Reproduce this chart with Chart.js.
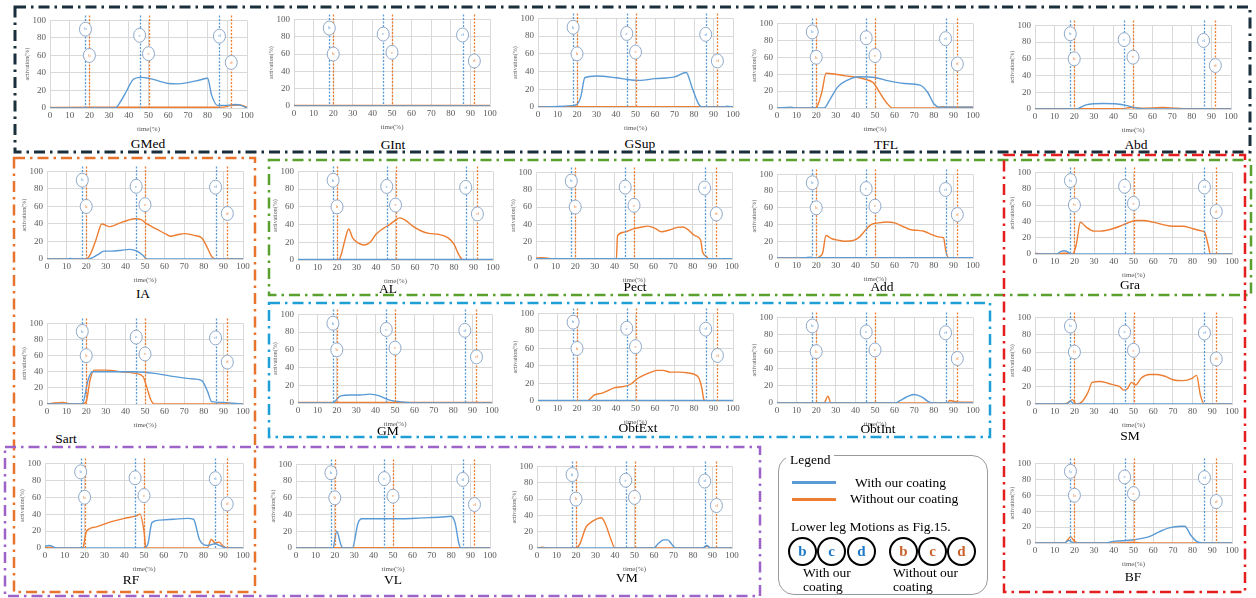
<!DOCTYPE html>
<html>
<head>
<meta charset="utf-8">
<script src="https://cdn.jsdelivr.net/npm/chart.js@4"></script>
<style>
  body { margin: 0; background: #fff; }
  #page { position: relative; width: 1256px; height: 598px; overflow: hidden; font-family: "Liberation Serif", serif; }
  canvas.panel { position: absolute; }
  .ttl { position: absolute; font-size: 13.5px; color: #000; transform: translate(-50%, -50%); white-space: nowrap; line-height: 1; }
  #frames { position: absolute; left: 0; top: 0; }
  #legend { position: absolute; left: 778px; top: 455px; width: 210px; height: 140px; border: 1.5px solid #9a9a9a; border-radius: 16px; box-sizing: border-box; }
  .lg { position: absolute; font-size: 13.5px; color: #000; white-space: nowrap; line-height: 1; }
  .sw { position: absolute; height: 3px; width: 44px; }
  .circ { position: absolute; width: 25px; height: 25px; border: 2px solid #000; border-radius: 50%; font-weight: bold; font-size: 15px; text-align: center; line-height: 25px; }
</style>
</head>
<body>
<div id="page"></div>
<script>
// series colours
const withColor = '#5b9bd5';
const withoutColor = '#ed7d31';

// motion phases (time %), circle heights, labels
const phaseTimes  = [18, 20, 45.5, 50, 86, 92];
const phaseCircY  = [90, 60, 83, 62, 82, 52];
const phaseLetter = ['b', 'b', 'c', 'c', 'd', 'd'];
const phaseIsWith = [true, false, true, false, true, false];

// activation curves, [time %, activation %]
const GMed_with = [[0,0],[33,0],[36,8],[39,20],[42,32],[46,35],[50,34],[55,31],[60,28],[65,27.5],[70,29],[76,32],[80,34],[82,15],[85,3],[90,3],[94,4],[97,3],[100,0]];
const GMed_without = [[0,0.5],[20,0.8],[80,0.8],[88,1],[92,3],[96,3.5],[100,1]];
const GInt_with = [[0,0],[100,0]];
const GInt_without = [[0,0.6],[100,0.6]];
const GSup_with = [[0,0],[10,0.5],[17,1.5],[20,3],[22,12],[24,33],[30,35],[40,33],[46,31],[52,30],[60,32],[70,34],[76,39],[79,22],[82,5],[84,0],[95,0],[97,1],[100,0]];
const GSup_without = [[0,0.3],[100,0.3]];
const TFL_with = [[0,0],[7,1],[10,0],[24,0],[27,10],[31,25],[36,33],[42,37],[50,36],[57,32],[65,29],[73,27],[77,18],[80,5],[83,1],[100,1]];
const TFL_without = [[0,0],[19,0],[20.5,2],[23,20],[25,41],[35,38],[45,34],[49,30],[53,16],[56,6],[59,0],[82,0],[84,1.5],[87,0.8],[100,0.8]];
const Abd_with = [[0,0],[21,0],[26,5],[35,6.5],[42,6],[47,4],[52,1],[56,0],[100,0]];
const Abd_without = [[0,0.3],[44,0.3],[49,1.8],[55,1],[65,1.8],[72,1],[80,0.3],[100,0.3]];
const IA_with = [[0,0],[10,0],[12,0.6],[14,0],[21,0],[26,5],[29,9],[33,9],[38,10],[42,11],[46,9],[49,4],[51,0],[100,0]];
const IA_without = [[0,0],[20,0],[22,5],[25,22],[28,40],[32,37],[37,41],[41,44],[45,46],[48,45],[51,40],[56,34],[61,28],[63,26],[67,28],[70,29],[75,27],[79,24],[82,12],[84,3],[86,0],[100,0]];
const AL_with = [[0,0.5],[100,0.5]];
const AL_without = [[0,0],[20,0],[21.5,2],[24,22],[26,35],[28,25],[31,19],[34,17],[37,20],[40,29],[44,36],[47,40],[50,45],[52,47.5],[55,45],[59,38],[63,33],[67,30],[72,29],[77,25],[80,18],[82,8],[84,1],[86,0],[100,0]];
const Pect_with = [[0,0.3],[100,0.3]];
const Pect_without = [[0,1],[3,1.5],[6,1],[8,0],[41,0],[41.6,27],[45,31],[50,35],[54,37],[57,38],[61,35],[64,31.5],[68,33.5],[72,36.5],[75,37],[78,33],[81,27],[84,22],[85,8],[87,3],[88,0],[100,0]];
const Add_with = [[0,0],[14,0.3],[17,1],[19,0.3],[100,0.3]];
const Add_without = [[0,0],[20,0],[22,2],[23.3,6],[25,27],[28,23],[32,21],[35,20],[39,21],[42,25],[45,33],[48,40],[52,42],[56,43],[60,42],[64,38],[68,34],[72,33],[75,32],[79,28],[83,25],[85,24],[86,10],[87.5,0],[100,0]];
const Gra_with = [[0,0],[11,0],[13,3],[15,4],[17,2],[18,0],[100,0]];
const Gra_without = [[0,1],[3,0],[11,0],[14,1],[17,1],[19,0],[21,12],[23,39],[26,33],[30,28],[33,28],[38,30],[43,34],[47,38],[51,41],[55,41],[60,39],[65,36],[70,34],[75,34],[80,31],[85,28],[86,27],[88,10],[89,0],[100,0]];
const Sart_with = [[0,0],[18,0],[21,30],[23,40],[35,40],[45,40],[55,38],[65,34],[75,31],[79,29],[82,15],[84,3],[90,2],[95,1],[100,0]];
const Sart_without = [[0,0],[3,1],[8,2],[12,0],[18,0],[20,3],[22,30],[24,42],[30,42],[38,40],[45,38],[49,34],[51,20],[53,5],[55,0],[100,0]];
const GM_with = [[0,0],[18,0],[19,2],[22,8],[27,9],[32,9],[37,10],[42,8],[46,4],[50,2],[55,1],[60,0],[100,0]];
const GM_without = [[0,0.5],[100,0.5]];
const ObtExt_with = [[0,0.5],[100,0.5]];
const ObtExt_without = [[0,0],[25,0],[27,3],[29,7],[33,9],[36,12],[39,15],[42,16],[45,17],[48,20],[50,24],[53,28],[57,32],[61,35],[64,35],[68,33],[73,33],[77,32],[82,28],[84,15],[85,2],[86,0],[100,0]];
const ObtInt_with = [[0,0],[60,0],[63,3],[66,7],[70,10],[74,7],[77,2],[80,0],[100,0]];
const ObtInt_without = [[0,0],[24,0],[26,8],[27.5,0],[87,0],[88,3],[92,1],[100,1]];
const SM_with = [[0,0],[16,0],[18,3],[20,0],[100,0]];
const SM_without = [[0,0],[15,0],[17,2],[19,5],[21,0],[24,3],[27,14],[29,25],[33,26],[37,24],[40,22],[43,20],[45,16],[47,18],[49,25],[51,22],[54,30],[58,34],[62,34],[66,32],[70,28],[75,27],[80,30],[82,33],[84,10],[86,0],[100,0]];
const RF_with = [[0,2],[2,3],[6,0],[50,0],[52,5],[54,30],[58,33],[65,34],[72,35],[75,34],[78,10],[82,3],[86,5],[88,3],[92,0],[100,0]];
const RF_without = [[0,0],[2,1],[5,0],[19,0],[21,20],[26,25],[32,30],[40,35],[46,38],[48,40],[50,20],[51,0],[82,0],[84,10],[86,6],[88,7],[90,2],[93,0],[100,0]];
const VL_with = [[0,0],[19,0],[21,20],[23,5],[24,0],[29,0],[32,30],[34,35],[45,35],[55,35],[65,36],[75,37],[80,38],[82,30],[84,5],[85,0],[100,0]];
const VL_without = [[0,0.3],[100,0.3]];
const VM_with = [[0,0],[60,0],[62,5],[65,10],[67,10],[69,5],[71,0],[85,0],[87,3],[89,0],[100,0]];
const VM_without = [[0,0],[3,1],[5,0],[20,0],[22,5],[25,25],[28,32],[31,36],[33,37],[35,30],[38,10],[40,0],[85,0],[87,2],[89,0],[100,0]];
const BF_with = [[0,0],[15,0],[17,3],[20,0],[35,0],[40,2],[50,4],[58,8],[63,14],[68,19],[74,21],[76,21],[79,10],[82,2],[85,0],[100,0]];
const BF_without = [[0,0],[15,0],[17,5],[18,8],[20,2],[22,0],[40,0],[50,1],[55,0],[100,0]];

// panel layout: plot box [left, top, right, bottom] and title centre
const panels = [
  { name: 'GMed',   w: GMed_with,   wo: GMed_without,   box: [50, 19, 247, 108],   t: [148, 144] },
  { name: 'GInt',   w: GInt_with,   wo: GInt_without,   box: [294, 18, 490, 106],  t: [393, 145] },
  { name: 'GSup',   w: GSup_with,   wo: GSup_without,   box: [538, 17, 733, 107],  t: [640, 144] },
  { name: 'TFL',    w: TFL_with,    wo: TFL_without,    box: [777, 22, 973, 108],  t: [886, 145] },
  { name: 'Abd',    w: Abd_with,    wo: Abd_without,    box: [1035, 24, 1231, 109], t: [1136, 145] },
  { name: 'IA',     w: IA_with,     wo: IA_without,     box: [47, 170, 243, 259],  t: [143, 294] },
  { name: 'AL',     w: AL_with,     wo: AL_without,     box: [298, 170, 493, 260], t: [388, 289] },
  { name: 'Pect',   w: Pect_with,   wo: Pect_without,   box: [536, 171, 732, 259], t: [635, 287] },
  { name: 'Add',    w: Add_with,    wo: Add_without,    box: [777, 173, 973, 258], t: [882, 287] },
  { name: 'Gra',    w: Gra_with,    wo: Gra_without,    box: [1035, 171, 1232, 254], t: [1130, 285] },
  { name: 'Sart',   w: Sart_with,   wo: Sart_without,   box: [47, 322, 243, 404],  t: [66, 439] },
  { name: 'GM',     w: GM_with,     wo: GM_without,     box: [298, 313, 492, 403], t: [388, 431] },
  { name: 'ObtExt', w: ObtExt_with, wo: ObtExt_without, box: [538, 312, 733, 401], t: [638, 428] },
  { name: 'ObtInt', w: ObtInt_with, wo: ObtInt_without, box: [777, 316, 973, 403], t: [878, 429] },
  { name: 'SM',     w: SM_with,     wo: SM_without,     box: [1035, 316, 1232, 404], t: [1130, 436] },
  { name: 'RF',     w: RF_with,     wo: RF_without,     box: [45, 462, 243, 548],  t: [131, 580] },
  { name: 'VL',     w: VL_with,     wo: VL_without,     box: [296, 463, 490, 548], t: [393, 580] },
  { name: 'VM',     w: VM_with,     wo: VM_without,     box: [537, 465, 732, 548], t: [627, 578] },
  { name: 'BF',     w: BF_with,     wo: BF_without,     box: [1035, 462, 1232, 543], t: [1133, 577] }
];

// group frames (dash-dot)
const frames = [
  { c: '#1b2e3c', r: [15, 7, 1235, 145], lw: 3 },
  { c: '#e8732c', r: [14, 158, 241, 434], lw: 2.5 },
  { c: '#5aa02c', r: [269, 160, 982, 135], lw: 2.5 },
  { c: '#1ea0d6', r: [269, 303, 721, 134], lw: 2.5 },
  { c: '#e41e1e', r: [1004, 155, 241, 437], lw: 2.5 },
  { c: '#9e63c8', r: [5, 447, 755, 149], lw: 2.5 }
];

const PAD_L = 26, PAD_T = 8, PAD_R = 10, PAD_B = 25;
const page = document.getElementById('page');

// vertical phase lines + circled letters
const phasePlugin = {
  id: 'phases',
  afterDatasetsDraw(chart) {
    const { ctx, chartArea, scales: { x, y } } = chart;
    ctx.save();
    phaseTimes.forEach((t, i) => {
      const px = Math.round(x.getPixelForValue(t)) + 0.5;
      ctx.strokeStyle = phaseIsWith[i] ? withColor : withoutColor;
      ctx.lineWidth = 1.3;
      ctx.setLineDash([2, 1.5]);
      ctx.beginPath();
      ctx.moveTo(px, chartArea.top - 5);
      ctx.lineTo(px, chartArea.bottom);
      ctx.stroke();
    });
    ctx.setLineDash([]);
    phaseTimes.forEach((t, i) => {
      const px = x.getPixelForValue(t);
      const py = y.getPixelForValue(phaseCircY[i]);
      ctx.beginPath();
      ctx.ellipse(px, py, 6, 7, 0, 0, Math.PI * 2);
      ctx.fillStyle = '#fff';
      ctx.fill();
      ctx.strokeStyle = '#8fa8c8';
      ctx.lineWidth = 1;
      ctx.stroke();
      ctx.fillStyle = phaseIsWith[i] ? withColor : withoutColor;
      ctx.font = '5px "Liberation Serif"';
      ctx.textAlign = 'center';
      ctx.textBaseline = 'middle';
      ctx.fillText(phaseLetter[i], px, py);
    });
    ctx.restore();
  }
};

const toPts = arr => arr.map(p => ({ x: p[0], y: p[1] }));

panels.forEach(p => {
  const [l, t, r, b] = p.box;
  const cv = document.createElement('canvas');
  cv.className = 'panel';
  const W = (r - l) + PAD_L + PAD_R, H = (b - t) + PAD_T + PAD_B;
  cv.width = W; cv.height = H;
  cv.style.left = (l - PAD_L) + 'px';
  cv.style.top = (t - PAD_T) + 'px';
  cv.style.width = W + 'px'; cv.style.height = H + 'px';
  page.appendChild(cv);

  new Chart(cv.getContext('2d'), {
    type: 'line',
    data: {
      datasets: [
        { label: 'With our coating', data: toPts(p.w), borderColor: withColor },
        { label: 'Without our coating', data: toPts(p.wo), borderColor: withoutColor }
      ]
    },
    options: {
      responsive: false,
      animation: false,
      parsing: false,
      layout: { padding: { top: PAD_T, right: PAD_R, left: 0, bottom: 0 } },
      elements: {
        point: { radius: 0 },
        line: { borderWidth: 1.4, cubicInterpolationMode: 'monotone', fill: false }
      },
      plugins: { legend: { display: false }, tooltip: { enabled: false } },
      scales: {
        x: {
          type: 'linear', min: 0, max: 100,
          afterFit: s => { s.height = PAD_B; },
          ticks: { stepSize: 10, color: '#595959', padding: 2, maxRotation: 0, font: { family: 'Liberation Serif', size: 9 } },
          grid: { color: '#d9d9d9', drawTicks: false },
          border: { color: '#d9d9d9' },
          title: { display: true, text: 'time(%)', color: '#595959', padding: 0, font: { family: 'Liberation Serif', size: 7 } }
        },
        y: {
          min: 0, max: 100,
          afterFit: s => { s.width = PAD_L; },
          ticks: { stepSize: 20, color: '#595959', padding: 4, font: { family: 'Liberation Serif', size: 9 } },
          grid: { color: '#d9d9d9', drawTicks: false },
          border: { color: '#d9d9d9' },
          title: { display: true, text: 'activation(%)', color: '#595959', padding: 0, font: { family: 'Liberation Serif', size: 6 } }
        }
      }
    },
    plugins: [phasePlugin]
  });

  const tt = document.createElement('div');
  tt.className = 'ttl';
  tt.textContent = p.name;
  tt.style.left = p.t[0] + 'px';
  tt.style.top = p.t[1] + 'px';
  page.appendChild(tt);
});

// frames overlay
const NS = 'http://www.w3.org/2000/svg';
const svg = document.createElementNS(NS, 'svg');
svg.setAttribute('id', 'frames');
svg.setAttribute('width', 1256);
svg.setAttribute('height', 598);
frames.forEach(f => {
  const rc = document.createElementNS(NS, 'rect');
  rc.setAttribute('x', f.r[0]); rc.setAttribute('y', f.r[1]);
  rc.setAttribute('width', f.r[2]); rc.setAttribute('height', f.r[3]);
  rc.setAttribute('fill', 'none');
  rc.setAttribute('stroke', f.c);
  rc.setAttribute('stroke-width', f.lw);
  rc.setAttribute('stroke-dasharray', '11 5 2.5 5');
  svg.appendChild(rc);
});
page.appendChild(svg);

// legend box
const lg = document.createElement('div');
lg.id = 'legend';
page.appendChild(lg);
function addText(txt, x, y, extra) {
  const d = document.createElement('div');
  d.className = 'lg';
  d.textContent = txt;
  d.style.left = x + 'px';
  d.style.top = y + 'px';
  if (extra) Object.assign(d.style, extra);
  page.appendChild(d);
  return d;
}
addText('Legend', 786, 453, { background: '#fff', padding: '0 4px' });
const sw1 = document.createElement('div'); sw1.className = 'sw';
Object.assign(sw1.style, { left: '792px', top: '481px', background: withColor });
const sw2 = document.createElement('div'); sw2.className = 'sw';
Object.assign(sw2.style, { left: '792px', top: '498px', background: withoutColor });
page.appendChild(sw1); page.appendChild(sw2);
addText('With our coating', 855, 476);
addText('Without our coating', 850, 492);
addText('Lower leg Motions as Fig.15.', 791, 520);
const circLetters = ['b', 'c', 'd'];
const circWithX = [788, 817, 847];
const circWithoutX = [889, 918, 947];
circLetters.forEach((ch, i) => {
  [[circWithX[i], '#1e7ac8'], [circWithoutX[i], '#c8622a']].forEach(([cx, col]) => {
    const c = document.createElement('div');
    c.className = 'circ';
    c.textContent = ch;
    c.style.left = cx + 'px';
    c.style.top = '537px';
    c.style.color = col;
    page.appendChild(c);
  });
});
addText('With our', 803, 566);
addText('coating', 803, 580);
addText('Without our', 893, 566);
addText('coating', 893, 580);
</script>
</body>
</html>
